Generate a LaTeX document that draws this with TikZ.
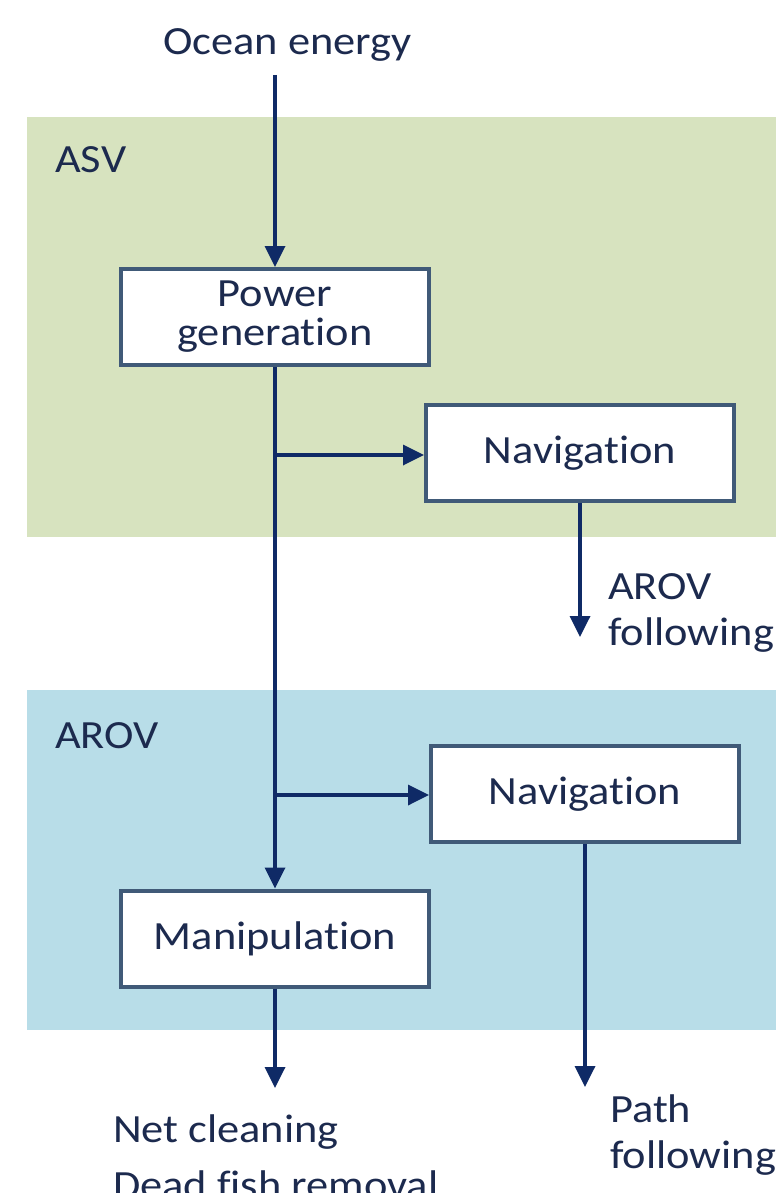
\documentclass[tikz,border=0pt]{standalone}
\usepackage{fontspec}
\setmainfont{Carlito}[FakeStretch=1.11, Ligatures=NoCommon]
\usetikzlibrary{arrows.meta}
\definecolor{asvgreen}{HTML}{D7E3BF}
\definecolor{arovblue}{HTML}{B8DDE8}
\definecolor{flow}{HTML}{0F2A66}
\definecolor{frame}{HTML}{405A78}
\definecolor{ink}{HTML}{1C2A4E}

\begin{document}
\begin{tikzpicture}[x=1pt,y=-1pt,
  every node/.style={text=ink, font=\fontsize{40}{39}\selectfont},
  block/.style={draw=frame, line width=4pt, fill=white, inner sep=0pt,
    align=center, minimum width=308pt, minimum height=96pt},
  flowline/.style={draw=flow, line width=3.5pt},
  flowarrow/.style={flowline, -{Triangle[length=21pt,width=20pt]}},
  outtext/.style={anchor=base west, align=left, inner sep=0pt,
    font=\fontsize{40}{46}\selectfont}
]
\useasboundingbox (0,0) rectangle (776,1193);

% vehicle bands
\fill[asvgreen] (27,117) rectangle (776,537);
\fill[arovblue] (27,690) rectangle (776,1030);

% band titles
\node[outtext] (asv)  at (55,172) {ASV};
\node[outtext] (arov) at (55,748) {AROV};

% energy source
\node[anchor=base, inner sep=0pt] (ocean) at (287.5,55) {Ocean energy};
\coordinate (src) at (275,75);

% function blocks
\node[block] (pg)   at (275,317)   {Power\\generation};
\node[block] (nav1) at (580,453)   {Navigation};
\node[block] (nav2) at (585,794)   {Navigation};
\node[block] (man)  at (275,938.5) {Manipulation};

% outputs (anchored at the baseline of the last line)
\node[outtext] (follow) at (608,645)  {AROV\\following};
\node[outtext] (path)   at (610,1168) {Path\\following};
\node[outtext] (tasks)  at (113,1198) {Net cleaning\\[10pt]Dead fish removal};

% junctions and free arrow ends
\coordinate (j1) at (275,455);
\coordinate (j2) at (275,795);
\coordinate (t1) at (580,637);
\coordinate (t2) at (585,1087);
\coordinate (t3) at (275,1088);

% power and signal flow
\draw[flowarrow] (src) -- (pg.north);
\draw[flowarrow] (pg.south) -- (man.north);
\draw[flowarrow] (j1) -- (j1 -| nav1.west);
\draw[flowarrow] (j2) -- (j2 -| nav2.west);
\draw[flowarrow] (nav1.south) -- (t1);
\draw[flowarrow] (nav2.south) -- (t2);
\draw[flowarrow] (man.south) -- (t3);
\end{tikzpicture}
\end{document}
